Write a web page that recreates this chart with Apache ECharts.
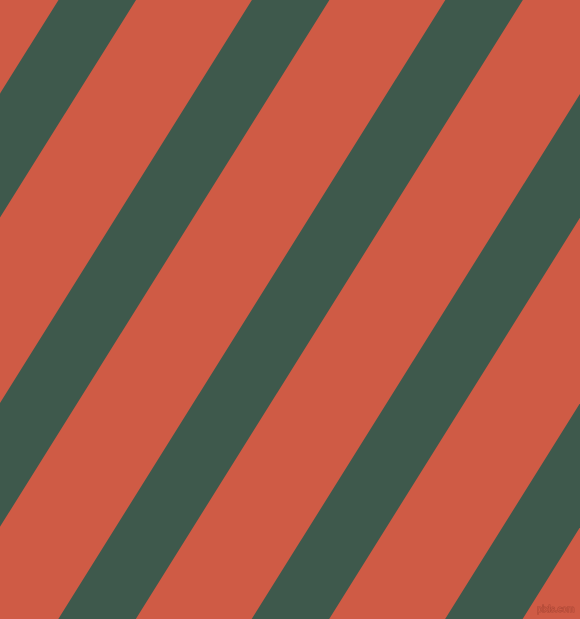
<!DOCTYPE html>
<html>
<head>
<meta charset="utf-8">
<style>
  html, body { margin: 0; padding: 0; background: #CF5B45; }
  #chart { width: 580px; height: 619px; }
</style>
<script src="https://cdn.jsdelivr.net/npm/echarts@6/dist/echarts.min.js"></script>
</head>
<body>
<div id="chart"></div>
<script>
// Dark diagonal bands: x positions where each band crosses the top edge (y = 0)
// and the bottom edge (y = 619) of the picture.
const bandTopStart    = [58.5, 251.9, 445.3, 638.7, 832.1];
const bandTopEnd      = [136.0, 329.4, 522.8, 716.2, 909.6];
const bandBottomStart = [-328.5, -135.1, 58.3, 251.7, 445.1];
const bandBottomEnd   = [-251.0, -57.6, 135.8, 329.2, 522.6];

const X_EXTENT = 580;
const Y_EXTENT = 619;

const bandData = bandTopStart.map((t, i) => [t, bandTopEnd[i], bandBottomStart[i], bandBottomEnd[i]]);

const chart = echarts.init(document.getElementById('chart'), null, { renderer: 'canvas' });
chart.setOption({
  backgroundColor: '#CF5B45',
  animation: false,
  grid: { left: 0, right: 0, top: 0, bottom: 0 },
  xAxis: { type: 'value', min: 0, max: X_EXTENT, show: false },
  yAxis: { type: 'value', min: 0, max: Y_EXTENT, inverse: true, show: false },
  series: [{
    type: 'custom',
    data: bandData,
    clip: true,
    renderItem: function (params, api) {
      const p1 = api.coord([api.value(0), 0]);
      const p2 = api.coord([api.value(1), 0]);
      const p3 = api.coord([api.value(3), Y_EXTENT]);
      const p4 = api.coord([api.value(2), Y_EXTENT]);
      return {
        type: 'polygon',
        shape: { points: [p1, p2, p3, p4] },
        style: { fill: '#3E594C', stroke: null }
      };
    }
  }],
  graphic: [{
    type: 'text',
    right: 5,
    bottom: 4,
    style: {
      text: 'pixls.com',
      font: '9px "Liberation Sans"',
      fill: '#CF5B45',
      stroke: 'rgba(140,55,40,0.55)',
      lineWidth: 1
    }
  }]
});
</script>
</body>
</html>
